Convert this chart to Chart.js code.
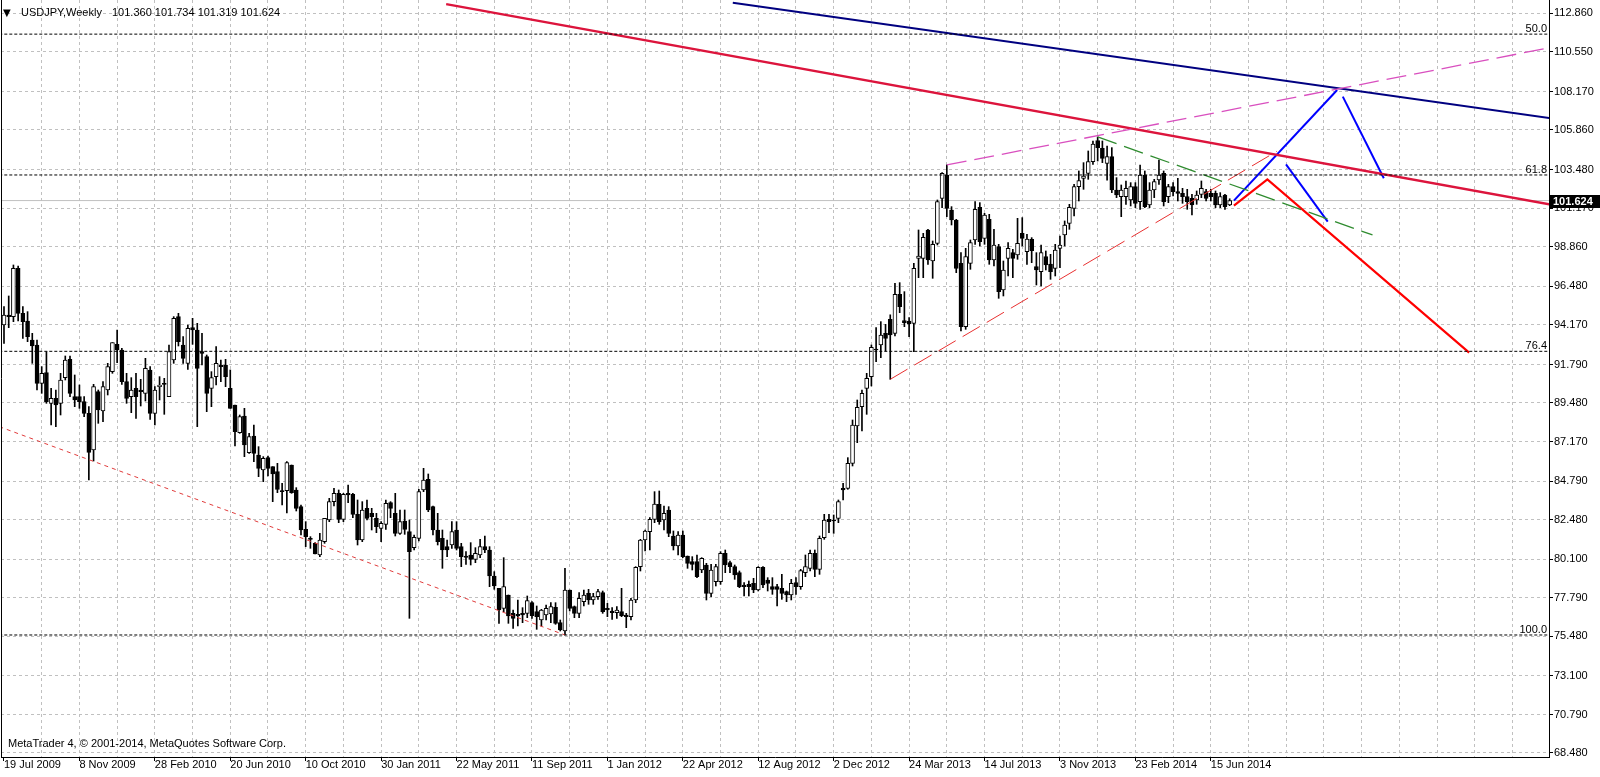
<!DOCTYPE html>
<html>
<head>
<meta charset="utf-8">
<title>USDJPY, Weekly</title>
<script src="https://cdn.jsdelivr.net/npm/chart.js@4.4.1/dist/chart.umd.min.js"></script>
<style>
  html, body { margin: 0; padding: 0; background: #fff; }
  canvas { display: block; }
</style>
</head>
<body>
<canvas id="mychart" width="1600" height="777"></canvas>
<script>
// USDJPY weekly bars, week of 19 Jul 2009 .. week of 13 Jul 2014 (index = week number)
var dateLabels = ['19 Jul 2009', '8 Nov 2009', '28 Feb 2010', '20 Jun 2010', '10 Oct 2010', '30 Jan 2011',
  '22 May 2011', '11 Sep 2011', '1 Jan 2012', '22 Apr 2012', '12 Aug 2012', '2 Dec 2012', '24 Mar 2013',
  '14 Jul 2013', '3 Nov 2013', '23 Feb 2014', '15 Jun 2014'];
var priceTicks = [112.86, 110.55, 108.17, 105.86, 103.48, 101.17, 98.86, 96.48, 94.17, 91.79, 89.48,
  87.17, 84.79, 82.48, 80.10, 77.79, 75.48, 73.10, 70.79, 68.48];

var opens = [
  94.16, 94.76, 94.66, 97.56, 94.86, 94.40, 93.26, 92.96, 90.66, 91.30,
  89.46, 89.76, 89.46, 91.00, 92.10, 89.86, 89.86, 89.56, 88.86, 86.66,
  90.16, 89.00, 90.26, 91.36, 93.00, 92.66, 90.76, 89.86, 90.36, 90.26,
  90.06, 91.46, 88.86, 90.46, 90.66, 89.86, 92.06, 94.66, 92.96, 91.86,
  94.00, 93.86, 92.56, 92.26, 90.36, 91.06, 91.76, 91.76, 90.36, 89.36,
  87.70, 88.70, 86.50, 87.50, 86.36, 85.46, 86.20, 85.66, 85.36, 84.20,
  84.22, 85.76, 84.26, 83.26, 81.90, 81.36, 81.06, 80.36, 81.16, 82.46,
  83.56, 84.06, 82.50, 84.06, 84.00, 82.80, 81.26, 83.16, 82.86, 82.56,
  81.96, 82.20, 83.50, 82.86, 81.66, 82.40, 81.76, 80.80, 81.36, 84.26,
  84.90, 83.26, 81.86, 81.36, 80.86, 80.96, 81.86, 80.86, 80.30, 80.36,
  80.10, 80.36, 80.86, 80.66, 79.10, 78.36, 77.16, 77.96, 76.86, 76.80,
  76.86, 76.86, 77.50, 76.96, 76.46, 76.76, 76.82, 77.22, 76.30, 75.80,
  78.26, 77.26, 76.86, 77.56, 78.06, 77.66, 77.86, 78.10, 77.16, 77.00,
  76.90, 76.96, 76.76, 76.66, 77.66, 79.66, 81.26, 81.76, 82.50, 83.40,
  82.46, 83.06, 81.50, 80.90, 81.56, 80.30, 79.96, 79.96, 79.46, 79.76,
  78.06, 78.76, 78.76, 80.46, 79.90, 79.66, 79.30, 78.56, 78.60, 78.66,
  78.26, 79.62, 78.86, 78.46, 78.46, 78.36, 78.16, 77.96, 78.70, 78.46,
  79.30, 79.56, 80.46, 79.50, 81.40, 82.50, 82.46, 82.56, 84.36, 84.36,
  85.86, 88.10, 89.26, 90.36, 91.06, 92.70, 92.96, 93.66, 94.50, 93.66,
  96.00, 94.42, 94.40, 94.26, 98.16, 98.16, 99.86, 98.00, 99.06, 101.76,
  103.16, 101.06, 100.46, 97.86, 94.06, 97.86, 99.26, 101.22, 99.36, 100.50,
  98.06, 98.86, 96.26, 98.16, 98.50, 98.36, 99.66, 98.56, 99.30, 97.66,
  97.36, 98.26, 97.82, 97.56, 98.76, 99.56, 100.26, 101.16, 102.46, 102.96,
  103.26, 103.96, 105.22, 104.76, 103.86, 104.26, 102.26, 101.86, 101.86, 101.66,
  102.46, 101.56, 103.16, 101.36, 102.26, 102.86, 103.26, 101.86, 102.46, 102.16,
  102.06, 101.86, 101.76, 101.66, 102.00, 102.16, 102.06, 102.06, 101.36, 101.96,
  101.360
];
var highs = [
  95.26, 95.90, 97.76, 97.70, 95.26, 94.96, 93.66, 93.26, 91.66, 92.56,
  90.36, 90.26, 91.26, 92.30, 92.30, 91.16, 90.56, 89.86, 89.26, 90.60,
  90.26, 90.76, 91.86, 93.10, 93.86, 92.76, 91.26, 91.00, 91.26, 90.90,
  92.16, 91.66, 90.46, 91.06, 90.96, 92.96, 94.66, 94.86, 93.46, 94.16,
  94.56, 94.26, 93.66, 92.36, 91.36, 92.86, 92.06, 92.10, 91.46, 89.36,
  88.76, 89.16, 87.66, 88.16, 86.86, 86.26, 86.30, 85.66, 85.86, 84.66,
  85.96, 85.76, 84.40, 83.36, 82.36, 81.46, 81.10, 81.66, 82.56, 83.76,
  84.36, 84.26, 84.06, 84.56, 84.06, 83.66, 83.56, 83.66, 83.16, 82.86,
  82.36, 83.66, 83.56, 84.06, 83.06, 83.06, 82.46, 81.56, 84.30, 85.56,
  85.22, 83.30, 82.86, 81.86, 81.26, 82.36, 82.36, 81.06, 80.56, 81.10,
  80.80, 81.30, 81.50, 80.86, 79.36, 78.36, 80.20, 77.96, 77.06, 77.66,
  77.20, 77.90, 77.56, 77.30, 77.10, 77.36, 77.50, 77.50, 76.46, 79.56,
  78.26, 77.30, 78.10, 78.26, 78.30, 78.06, 78.30, 78.20, 77.46, 77.20,
  77.26, 78.36, 76.86, 77.76, 79.66, 81.30, 81.86, 82.60, 84.16, 84.20,
  83.30, 83.26, 81.80, 81.76, 81.80, 80.30, 80.26, 80.36, 80.20, 79.86,
  79.80, 79.80, 80.56, 80.66, 80.00, 79.76, 79.40, 78.70, 78.80, 78.96,
  79.66, 79.66, 79.00, 79.00, 78.60, 79.20, 78.20, 78.90, 79.00, 79.50,
  80.36, 80.66, 80.66, 81.50, 82.80, 82.80, 82.76, 83.66, 84.66, 86.20,
  88.46, 89.66, 90.26, 91.26, 92.96, 94.00, 94.36, 94.20, 94.77, 96.66,
  96.70, 96.16, 94.60, 97.86, 99.86, 99.66, 99.90, 99.20, 101.66, 103.30,
  103.76, 101.26, 100.50, 98.50, 98.76, 99.26, 101.56, 101.50, 100.86, 100.80,
  99.90, 99.00, 98.00, 99.10, 98.70, 100.56, 100.60, 99.60, 99.40, 98.50,
  98.96, 98.60, 98.40, 99.00, 99.50, 100.40, 101.40, 102.60, 103.40, 103.90,
  104.60, 105.20, 105.44, 105.20, 104.90, 104.80, 103.00, 102.56, 102.80, 102.70,
  102.70, 103.76, 103.40, 102.70, 102.90, 104.06, 103.40, 102.60, 102.70, 102.96,
  102.36, 102.30, 102.00, 102.20, 102.80, 102.30, 102.30, 102.20, 102.10, 102.00,
  101.734
];
var lows = [
  93.06, 94.00, 94.36, 94.40, 93.36, 93.16, 91.86, 90.26, 90.06, 89.46,
  88.16, 88.06, 88.76, 90.86, 89.86, 89.26, 89.16, 88.66, 84.86, 86.00,
  88.26, 88.36, 89.96, 91.26, 91.90, 90.60, 89.46, 88.90, 88.56, 89.30,
  89.60, 88.50, 88.16, 89.66, 88.80, 89.86, 91.86, 92.90, 91.86, 91.50,
  93.00, 88.06, 91.76, 88.96, 89.26, 90.56, 90.76, 90.46, 89.16, 86.90,
  87.66, 86.26, 86.46, 85.96, 85.06, 84.76, 85.10, 83.56, 84.10, 83.36,
  82.88, 84.06, 83.00, 81.56, 80.86, 80.76, 80.42, 80.26, 81.06, 82.36,
  83.30, 82.30, 82.36, 83.50, 82.60, 80.96, 81.16, 82.46, 81.86, 81.70,
  81.16, 81.90, 82.60, 81.50, 81.60, 81.60, 76.56, 80.66, 81.20, 84.16,
  82.96, 81.56, 80.96, 79.56, 80.26, 80.76, 80.66, 79.66, 79.80, 79.76,
  79.90, 80.20, 80.50, 78.46, 78.30, 76.26, 76.96, 76.26, 75.96, 76.10,
  76.30, 76.60, 76.56, 75.90, 76.10, 76.46, 76.30, 76.20, 75.80, 75.56,
  77.00, 76.60, 76.60, 77.30, 77.40, 77.40, 77.70, 76.86, 76.66, 76.50,
  76.56, 76.66, 76.00, 76.46, 77.50, 79.40, 80.60, 80.66, 82.30, 82.20,
  81.86, 81.46, 80.66, 80.36, 80.20, 79.56, 79.46, 79.00, 79.30, 77.66,
  77.86, 78.50, 78.60, 79.30, 79.30, 78.90, 78.40, 77.90, 77.90, 78.10,
  78.20, 78.40, 78.20, 78.00, 77.30, 77.70, 77.56, 77.66, 78.00, 78.30,
  79.06, 79.40, 79.06, 79.20, 81.30, 81.70, 81.66, 82.30, 83.66, 84.30,
  85.70, 87.10, 87.80, 88.80, 90.50, 91.96, 92.20, 92.60, 90.90, 93.50,
  94.90, 94.06, 93.46, 92.56, 97.00, 97.00, 97.80, 96.96, 98.96, 101.20,
  100.66, 100.16, 97.30, 93.80, 93.90, 97.50, 99.00, 98.90, 99.00, 97.80,
  97.70, 95.76, 95.90, 97.10, 97.00, 98.10, 98.90, 97.80, 97.90, 96.56,
  96.50, 97.46, 96.90, 97.10, 97.60, 98.90, 99.90, 100.70, 101.60, 102.30,
  102.90, 103.80, 104.00, 103.90, 102.85, 102.10, 101.80, 100.66, 101.40, 101.30,
  101.20, 101.10, 101.20, 101.20, 101.80, 102.60, 101.30, 101.50, 101.90, 101.60,
  101.46, 101.10, 100.76, 101.40, 101.80, 101.60, 101.60, 101.20, 101.20, 101.10,
  101.319
];
var closes = [
  94.76, 94.66, 97.56, 94.86, 94.36, 93.46, 92.90, 90.66, 91.26, 89.56,
  89.76, 89.36, 90.86, 92.06, 90.06, 89.66, 89.56, 88.86, 86.52, 90.46,
  89.06, 90.46, 91.66, 93.10, 92.66, 90.76, 89.76, 90.26, 89.86, 90.16,
  91.56, 88.86, 90.26, 90.56, 90.60, 92.56, 94.56, 93.16, 92.16, 93.96,
  93.86, 91.56, 92.46, 90.06, 91.00, 91.86, 91.66, 91.06, 89.16, 87.76,
  88.66, 86.96, 87.46, 86.46, 85.56, 86.16, 85.56, 85.22, 84.30, 84.16,
  85.90, 84.10, 83.16, 81.86, 81.46, 81.30, 80.42, 81.26, 82.56, 83.56,
  84.06, 82.50, 84.00, 83.96, 82.80, 81.26, 83.06, 82.56, 82.66, 82.06,
  82.26, 83.46, 83.16, 81.66, 82.36, 81.90, 80.56, 81.42, 84.16, 84.86,
  83.06, 81.86, 81.16, 80.66, 80.66, 81.76, 80.76, 80.26, 80.22, 80.10,
  80.46, 80.86, 80.66, 79.10, 78.50, 77.06, 78.46, 76.70, 76.56, 76.70,
  76.76, 77.62, 76.72, 76.66, 77.06, 77.16, 77.26, 76.26, 75.86, 78.26,
  77.16, 76.86, 77.76, 77.96, 77.66, 77.86, 78.16, 76.96, 77.06, 76.90,
  77.06, 76.72, 76.66, 77.66, 79.62, 81.26, 81.80, 82.50, 83.42, 82.36,
  82.86, 81.66, 80.90, 81.56, 80.26, 79.86, 79.80, 79.06, 80.16, 78.06,
  79.46, 79.66, 80.46, 79.76, 79.66, 79.16, 78.46, 78.46, 78.46, 78.26,
  79.62, 78.56, 78.66, 78.30, 78.30, 78.06, 77.96, 78.66, 78.46, 79.42,
  79.66, 80.46, 79.50, 81.36, 82.46, 82.36, 82.40, 83.56, 84.26, 85.86,
  88.16, 89.22, 90.06, 90.96, 92.82, 92.66, 93.56, 93.36, 93.56, 96.00,
  95.26, 94.30, 94.22, 97.56, 98.30, 99.42, 98.06, 99.00, 101.56, 103.26,
  101.16, 100.46, 97.56, 94.06, 98.26, 99.10, 101.10, 99.16, 100.76, 98.06,
  98.96, 96.16, 97.46, 98.76, 98.16, 99.06, 99.36, 99.32, 98.62, 97.46,
  98.50, 97.76, 97.36, 98.66, 98.96, 100.16, 101.22, 102.46, 102.82, 103.10,
  103.96, 105.02, 104.80, 104.16, 104.26, 102.26, 101.96, 102.26, 102.36, 102.46,
  101.46, 103.16, 101.26, 102.26, 102.76, 103.16, 101.56, 102.46, 102.16, 102.06,
  101.86, 101.56, 101.36, 101.96, 102.36, 101.76, 101.86, 101.36, 101.86, 101.26,
  101.624
];

// fibo retracement 147.66 -> 75.56
var fiboNames = ['50.0', '61.8', '76.4', '100.0'];
var fiboValues = [111.61, 103.16, 92.58, 75.56];

// drawn objects: [bar index, price]
var crimsonLine = [[93.8, 113.41], [330, 101.29]];
var navyLine = [[154.6, 113.49], [330, 106.49]];
var pinkLine = [[200, 103.76], [330, 110.91]];
var redDashLine = [[188, 90.9], [270, 104.58]];
var redDotLine = [[-1, 88.06], [119, 75.56]];
var greenLine = [[232, 105.44], [290.3, 99.56]];
var blueUp = [[260.9, 101.62], [282.8, 108.26]];
var blueDown = [[284.0, 107.86], [292.7, 102.96]];
var blueShort = [[271.95, 103.8], [280.8, 100.36]];
var redPath = [[260.9, 101.32], [268.0, 102.9], [310.8, 92.5]];

var hitam = '#000000';
var putih = '#ffffff';
var abu = '#c0c0c0';
var font11 = { family: 'Liberation Sans', size: 11 };
var last = closes.length - 1;

function toPoints(line) {
  return line.map(function (p) { return { x: p[0], y: p[1] }; });
}

function lineSet(line, color, width, dash, order) {
  return {
    type: 'line', data: toPoints(line), borderColor: color, borderWidth: width,
    borderDash: dash || [], pointRadius: 0, fill: false, tension: 0, clip: 0,
    order: order === undefined ? -1 : order
  };
}

var datasets = [
  {
    type: 'bar',
    data: opens.map(function (o, i) { return { x: i, y: [o, closes[i]] }; }),
    backgroundColor: opens.map(function (o, i) { return closes[i] >= o ? putih : hitam; }),
    borderColor: hitam, borderWidth: 1, borderSkipped: false,
    barThickness: 4, minBarLength: 1, grouped: false, order: 0
  },
  {
    type: 'bar',
    data: lows.map(function (l, i) { return { x: i, y: [l, highs[i]] }; }),
    backgroundColor: hitam, borderWidth: 0, barThickness: 1, grouped: false, order: 1
  },
  lineSet([[-1, closes[last]], [330, closes[last]]], abu, 1, [], 5)
];

fiboValues.forEach(function (v) {
  datasets.push(lineSet([[-1, v], [330, v]], hitam, 1, [3, 2]));
});

datasets.push(lineSet(redDotLine, '#e03c3c', 1, [4, 4]));
datasets.push(lineSet(redDashLine, '#e83030', 1, [20, 8]));
datasets.push(lineSet(pinkLine, '#d94fbf', 1.3, [20, 8]));
datasets.push(lineSet(greenLine, '#2e8b2e', 1.3, [20, 8]));
datasets.push(lineSet(crimsonLine, '#dc143c', 2.5));
datasets.push(lineSet(navyLine, '#000080', 2));
datasets.push(lineSet(blueUp, '#0000ff', 2));
datasets.push(lineSet(blueDown, '#0000ff', 2));
datasets.push(lineSet(blueShort, '#0000ff', 2));
datasets.push(lineSet(redPath, '#ff0000', 2.2));

function isDateTick(v) {
  return v % 16 === 0 && v / 16 < dateLabels.length;
}

var mt4Extras = {
  id: 'mt4Extras',
  afterDraw: function (chart) {
    var c = chart.ctx;
    var area = chart.chartArea;
    var yAxis = chart.scales.y;
    c.save();
    // left frame
    c.strokeStyle = hitam;
    c.lineWidth = 1;
    c.beginPath();
    c.moveTo(area.left + 0.5, area.top);
    c.lineTo(area.left + 0.5, area.bottom);
    c.stroke();

    c.fillStyle = hitam;
    c.textAlign = 'left';
    c.textBaseline = 'middle';
    c.font = '10px "DejaVu Sans"';
    c.fillText('\u25bc', 3, 13);
    c.font = '11px "Liberation Sans"';
    c.fillText('USDJPY,Weekly', 21, 13);
    c.fillText([opens[last], highs[last], lows[last], closes[last]].map(function (v) {
      return v.toFixed(3);
    }).join(' '), 112, 13);
    c.fillText('MetaTrader 4, \u00a9 2001-2014, MetaQuotes Software Corp.', 8, 744);

    // fibo level names
    c.textAlign = 'right';
    c.textBaseline = 'alphabetic';
    fiboValues.forEach(function (v, k) {
      c.fillText(fiboNames[k], area.right - 2, yAxis.getPixelForValue(v) - 2);
    });

    // current price box
    var py = Math.round(yAxis.getPixelForValue(closes[last]));
    c.fillRect(area.right + 1, py - 6, chart.width - area.right - 1, 13);
    c.fillStyle = putih;
    c.font = 'bold 11px "Liberation Sans"';
    c.textAlign = 'left';
    c.textBaseline = 'middle';
    c.fillText(closes[last].toFixed(3), area.right + 4, py + 1);
    c.restore();
  }
};

var ctx = document.getElementById('mychart').getContext('2d');
var myChart = new Chart(ctx, {
  type: 'bar',
  data: { datasets: datasets },
  options: {
    responsive: false,
    animation: false,
    devicePixelRatio: 1,
    events: [],
    layout: { padding: { left: 1, top: 0, right: 0, bottom: 0 } },
    plugins: { legend: { display: false }, tooltip: { enabled: false } },
    scales: {
      x: {
        type: 'linear',
        position: 'bottom',
        min: -0.636,
        max: 327.74,
        offset: false,
        afterBuildTicks: function (scale) {
          var t = [];
          for (var v = 0; v <= 320; v += 8) t.push({ value: v });
          scale.ticks = t;
        },
        afterFit: function (scale) {
          scale.height = 20;
          scale.paddingLeft = 0;
          scale.paddingRight = 0;
        },
        grid: {
          offset: false,
          color: function (c) {
            return c.tick && c.tick.value === 0 ? 'rgba(0,0,0,0)' : abu;
          },
          lineWidth: 1,
          tickLength: 4,
          tickColor: function (c) {
            return c.tick && isDateTick(c.tick.value) ? hitam : 'rgba(0,0,0,0)';
          },
          tickBorderDash: []
        },
        border: { display: true, color: hitam, width: 1, dash: [3, 3] },
        ticks: {
          autoSkip: false,
          maxRotation: 0,
          minRotation: 0,
          align: 'start',
          padding: -3,
          color: hitam,
          font: font11,
          callback: function (v) {
            return isDateTick(v) ? dateLabels[v / 16] : '';
          }
        }
      },
      y: {
        type: 'linear',
        position: 'right',
        min: 68.24,
        max: 113.658,
        afterBuildTicks: function (scale) {
          scale.ticks = priceTicks.map(function (v) { return { value: v }; });
        },
        afterFit: function (scale) {
          scale.width = 51;
          scale.paddingTop = 0;
          scale.paddingBottom = 0;
        },
        grid: {
          color: abu,
          lineWidth: 1,
          tickLength: 4,
          tickColor: hitam,
          tickBorderDash: []
        },
        border: { display: true, color: hitam, width: 1, dash: [3, 3] },
        ticks: {
          autoSkip: false,
          padding: 1,
          color: hitam,
          font: font11,
          callback: function (v) { return v.toFixed(3); }
        }
      }
    }
  },
  plugins: [mt4Extras]
});
</script>
</body>
</html>
